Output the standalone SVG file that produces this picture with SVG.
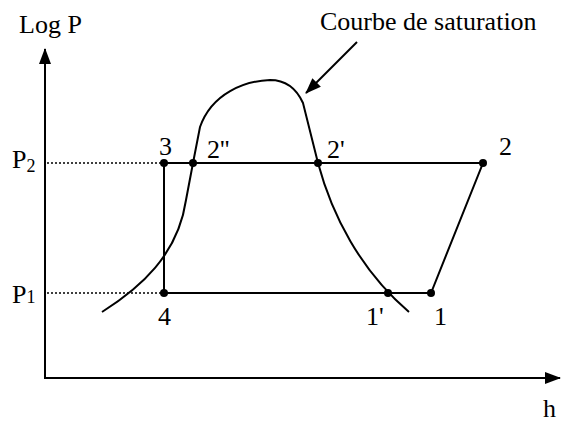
<svg xmlns="http://www.w3.org/2000/svg" width="561" height="423" viewBox="0 0 561 423">
<style>
text{font-family:"Liberation Serif","Times New Roman",serif;font-size:26px;fill:#000}
.ln{stroke:#000;stroke-width:2;fill:none}
.dot{stroke:#000;stroke-width:1.5;stroke-dasharray:2,2;fill:none}
.pt{fill:#000}
</style>
<defs>
<marker id="ah" markerWidth="16" markerHeight="12" refX="15" refY="6" orient="auto" markerUnits="userSpaceOnUse">
<path d="M0,0 L16,6 L0,12 Z" fill="#000"/>
</marker>
</defs>
<g id="axes">
<line class="ln" x1="45" y1="378" x2="45" y2="49" marker-end="url(#ah)"/>
<line class="ln" x1="44" y1="378" x2="560" y2="378" marker-end="url(#ah)"/>
<text x="19" y="33">Log P</text>
<text x="543" y="417">h</text>
</g>
<g id="connectors">
<line class="dot" x1="47" y1="163" x2="164" y2="163"/>
<line class="dot" x1="47" y1="293" x2="178" y2="293"/>
<path class="ln" d="M164,163 L483,163 L431,293 L164,293 Z"/>
<path class="ln" d="M102,312 C140,288 178,255 186,200 L193,163 L200,127 C212,93 245,81 270,80 C288,80 298,92 303,103 L318,163 C332,215 360,270 409,312"/>
<line class="ln" x1="357" y1="42" x2="306" y2="93" marker-end="url(#ah)"/>
<text x="320" y="30">Courbe de saturation</text>
</g>
<g id="P2"><text x="12" y="168">P<tspan font-size="18" dy="4">2</tspan></text></g>
<g id="P1"><text x="12" y="303">P<tspan font-size="18" dy="0">1</tspan></text></g>
<g id="n3"><circle class="pt" cx="164" cy="163" r="4"/><text x="159" y="155">3</text></g>
<g id="n2pp"><circle class="pt" cx="193" cy="163" r="4"/><text x="207" y="158">2''</text></g>
<g id="n2p"><circle class="pt" cx="318" cy="163" r="4"/><text x="327" y="158">2'</text></g>
<g id="n2"><circle class="pt" cx="483" cy="163" r="4"/><text x="499" y="155">2</text></g>
<g id="n4"><circle class="pt" cx="164" cy="293" r="4"/><text x="158" y="325">4</text></g>
<g id="n1p"><circle class="pt" cx="388" cy="293" r="4"/><text x="366" y="325">1'</text></g>
<g id="n1"><circle class="pt" cx="431" cy="293" r="4"/><text x="434" y="325">1</text></g>
</svg>
